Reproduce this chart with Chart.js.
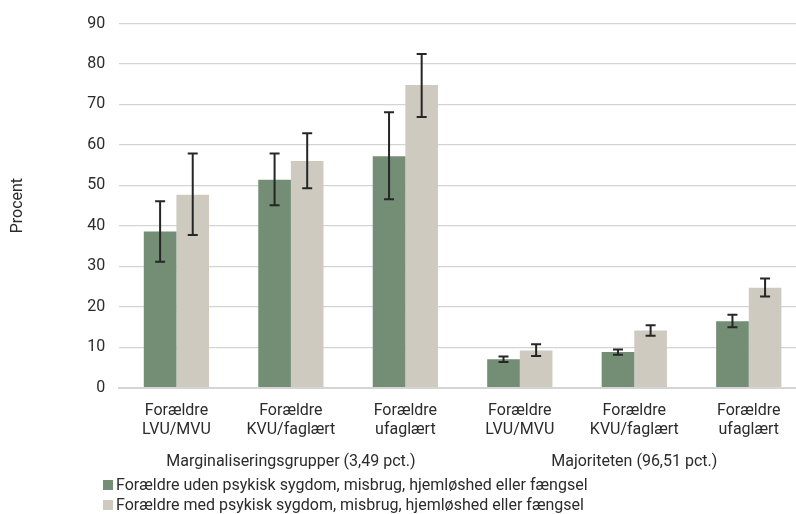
<!DOCTYPE html>
<html>
<head>
<meta charset="utf-8">
<script src="https://cdn.jsdelivr.net/npm/chart.js@4.4.1/dist/chart.umd.min.js"></script>
<style>
  body { margin: 0; overflow: hidden; background: #fff; font-family: Roboto, sans-serif; }
  #wrap { position: relative; width: 806px; height: 514px; }
  #legend { position: absolute; left: 103px; top: 475px; font-size: 16px; color: #2b2b2b; line-height: 20px; }
  #legend span.box { display: inline-block; width: 10px; height: 10px; margin-right: 3px; }
</style>
</head>
<body>
<div id="wrap">
  <canvas id="chart" width="806" height="514"></canvas>
  <div id="legend"></div>
</div>
<script>
'use strict';

// Data **********//
let categories = [
  ['Forældre', 'LVU/MVU'], ['Forældre', 'KVU/faglært'], ['Forældre', 'ufaglært'],
  ['Forældre', 'LVU/MVU'], ['Forældre', 'KVU/faglært'], ['Forældre', 'ufaglært']
];
let groupNames = ['Marginaliseringsgrupper (3,49 pct.)', 'Majoriteten (96,51 pct.)'];
let seriesNames = [
  'Forældre uden psykisk sygdom, misbrug, hjemløshed eller fængsel',
  'Forældre med psykisk sygdom, misbrug, hjemløshed eller fængsel'
];
let withoutValues = [38.6, 51.4, 57.2, 7.0, 8.8, 16.4];
let withoutLow = [31.1, 45.1, 46.6, 6.3, 8.1, 14.9];
let withoutHigh = [46.1, 57.9, 68.1, 7.7, 9.4, 18.0];
let withValues = [47.7, 56.0, 74.8, 9.2, 14.1, 24.7];
let withLow = [37.7, 49.3, 66.9, 7.8, 12.8, 22.5];
let withHigh = [57.9, 62.9, 82.5, 10.7, 15.4, 27.0];
let colors = ['#738e74', '#cecabf'];

// Plugins **********//
// error bars drawn from the low/high arrays through the y scale
let errorBars = {
  id: 'errorBars',
  afterDatasetsDraw(chart) {
    let ctx = chart.ctx;
    let y = chart.scales.y;
    ctx.save();
    ctx.strokeStyle = '#262626';
    ctx.lineWidth = 2;
    chart.data.datasets.forEach((ds, d) => {
      let meta = chart.getDatasetMeta(d);
      meta.data.forEach((bar, i) => {
        let top = y.getPixelForValue(ds.high[i]);
        let bottom = y.getPixelForValue(ds.low[i]);
        ctx.beginPath();
        ctx.moveTo(bar.x, top);
        ctx.lineTo(bar.x, bottom);
        ctx.moveTo(bar.x - 5, top);
        ctx.lineTo(bar.x + 5, top);
        ctx.moveTo(bar.x - 5, bottom);
        ctx.lineTo(bar.x + 5, bottom);
        ctx.stroke();
      });
    });
    ctx.restore();
  }
};

// group labels below the category labels
let groupLabels = {
  id: 'groupLabels',
  afterDraw(chart) {
    let ctx = chart.ctx;
    let x = chart.scales.x;
    ctx.save();
    ctx.font = '16px Roboto';
    ctx.fillStyle = '#2b2b2b';
    ctx.textAlign = 'center';
    ctx.textBaseline = 'middle';
    groupNames.forEach((name, g) => {
      let mid = (x.getPixelForValue(g * 3) + x.getPixelForValue(g * 3 + 2)) / 2;
      ctx.fillText(name, mid, 462);
    });
    ctx.restore();
  }
};

// Chart **********//
let chart = new Chart(document.getElementById('chart'), {
  type: 'bar',
  data: {
    labels: categories,
    datasets: [
      { label: seriesNames[0], data: withoutValues, low: withoutLow, high: withoutHigh, backgroundColor: colors[0] },
      { label: seriesNames[1], data: withValues, low: withLow, high: withHigh, backgroundColor: colors[1] }
    ]
  },
  options: {
    responsive: false,
    animation: false,
    layout: { padding: { top: 8, right: 0, bottom: 68, left: 4 } },
    datasets: { bar: { barPercentage: 1, categoryPercentage: 0.57 } },
    plugins: { legend: { display: false }, tooltip: { enabled: false } },
    scales: {
      x: {
        grid: { display: false },
        border: { color: '#d4d4d4', width: 2 },
        ticks: { color: '#2b2b2b', font: { family: 'Roboto', size: 16 }, padding: 6, maxRotation: 0, autoSkip: false }
      },
      y: {
        min: 0,
        max: 90,
        ticks: { stepSize: 10, color: '#2b2b2b', font: { family: 'Roboto', size: 16 }, padding: 14 },
        grid: { color: '#d4d4d4', lineWidth: 1.2, drawTicks: false },
        border: { display: false },
        title: { display: true, text: 'Procent', color: '#2b2b2b', font: { family: 'Roboto', size: 16 }, padding: { bottom: 46 } }
      }
    }
  },
  plugins: [errorBars, groupLabels]
});

// HTML legend from the dataset labels
let legend = document.getElementById('legend');
chart.data.datasets.forEach((ds) => {
  let row = document.createElement('div');
  row.innerHTML = '<span class="box" style="background:' + ds.backgroundColor + '"></span>' + ds.label;
  legend.appendChild(row);
});
</script>
</body>
</html>
